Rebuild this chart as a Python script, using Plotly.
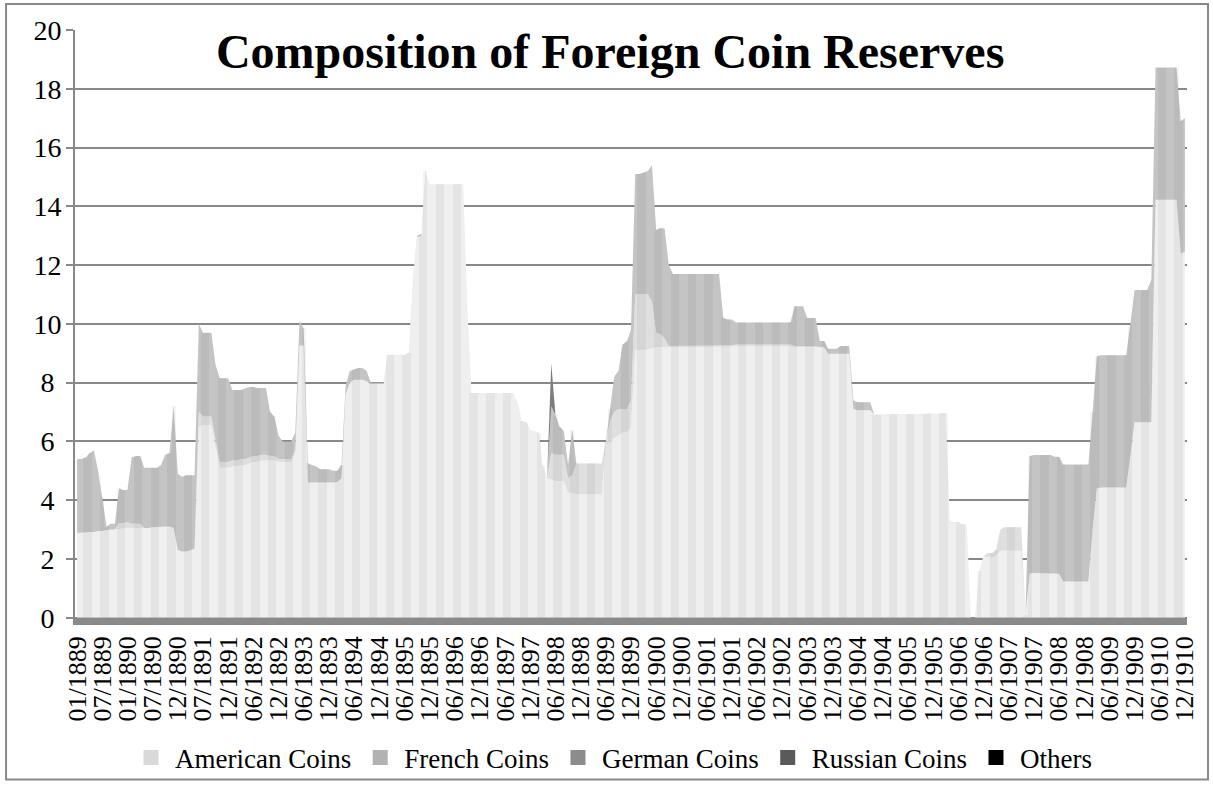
import plotly.graph_objects as go

# -----------------------------------------------------------------------------
# Data (monthly observations, values read off the chart)
# -----------------------------------------------------------------------------

tick_labels = [
    "01/1889", "07/1889", "01/1890", "07/1890", "12/1890", "07/1891", "12/1891",
    "06/1892", "12/1892", "06/1893", "12/1893", "06/1894", "12/1894", "06/1895",
    "12/1895", "06/1896", "12/1896", "06/1897", "12/1897", "06/1898", "12/1898",
    "06/1899", "12/1899", "06/1900", "12/1900", "06/1901", "12/1901", "06/1902",
    "12/1902", "06/1903", "12/1903", "06/1904", "12/1904", "06/1905", "12/1905",
    "06/1906", "12/1906", "06/1907", "12/1907", "06/1908", "12/1908", "06/1909",
    "12/1909", "06/1910", "12/1910",
]

y_ticks = [0, 2, 4, 6, 8, 10, 12, 14, 16, 18, 20]

american = [
    2.88, 2.90, 2.90, 2.92, 2.92, 2.95, 2.95, 2.98, 3.00, 3.00,
    3.02, 3.02, 3.05, 3.05, 3.05, 3.05, 3.05, 3.05, 3.08, 3.08,
    3.08, 3.10, 3.10, 3.05, 2.30, 2.25, 2.25, 2.30, 2.35, 6.50,
    6.55, 6.55, 6.55, 5.80, 5.10, 5.10, 5.10, 5.15, 5.15, 5.20,
    5.20, 5.25, 5.30, 5.30, 5.35, 5.35, 5.35, 5.35, 5.30, 5.30,
    5.30, 5.30, 5.60, 9.26, 9.26, 4.60, 4.60, 4.60, 4.58, 4.58,
    4.58, 4.60, 4.62, 4.75, 7.60, 8.00, 8.10, 8.10, 8.10, 8.05,
    7.95, 7.95, 7.95, 7.95, 8.95, 8.95, 8.95, 8.95, 8.95, 8.98,
    11.50, 12.95, 13.00, 15.20, 14.75, 14.75, 14.75, 14.75, 14.75, 14.75,
    14.75, 14.75, 14.78, 10.60, 7.65, 7.65, 7.65, 7.65, 7.65, 7.65,
    7.65, 7.65, 7.65, 7.65, 7.65, 7.30, 6.70, 6.65, 6.40, 6.35,
    6.30, 5.20, 4.75, 4.70, 4.65, 4.65, 4.65, 4.25, 4.25, 4.20,
    4.20, 4.20, 4.20, 4.20, 4.20, 4.20, 5.90, 6.00, 6.10, 6.20,
    6.30, 6.30, 6.50, 9.10, 9.12, 9.12, 9.12, 9.15, 9.20, 9.20,
    9.20, 9.20, 9.20, 9.20, 9.20, 9.20, 9.20, 9.20, 9.20, 9.20,
    9.20, 9.20, 9.20, 9.20, 9.20, 9.22, 9.22, 9.25, 9.25, 9.25,
    9.25, 9.25, 9.25, 9.25, 9.25, 9.25, 9.25, 9.25, 9.25, 9.25,
    9.25, 9.20, 9.20, 9.20, 9.20, 9.20, 9.20, 9.20, 9.20, 8.98,
    8.98, 8.98, 8.98, 8.98, 8.98, 7.10, 7.06, 7.06, 7.06, 7.06,
    6.91, 6.92, 6.92, 6.93, 6.93, 6.93, 6.93, 6.93, 6.93, 6.93,
    6.94, 6.94, 6.94, 6.95, 6.95, 6.95, 6.96, 6.96, 3.30, 3.26,
    3.26, 3.18, 3.18, 0.00, 0.00, 1.60, 2.10, 2.05, 2.05, 2.10,
    2.28, 2.28, 2.28, 2.28, 2.28, 2.28, 0.10, 1.50, 1.52, 1.52,
    1.52, 1.52, 1.52, 1.50, 1.50, 1.23, 1.23, 1.23, 1.23, 1.23,
    1.23, 1.23, 3.00, 4.40, 4.43, 4.43, 4.43, 4.43, 4.43, 4.43,
    4.43, 5.50, 6.65, 6.65, 6.65, 6.65, 6.65, 14.22, 14.22, 14.22,
    14.22, 14.22, 14.22, 12.40, 12.44,
]

french = [
    0, 0, 0, 0, 0, 0, 0, 0, 0, 0,
    0.20, 0.20, 0.20, 0.15, 0.15, 0.15, 0, 0, 0, 0,
    0, 0, 0, 0, 0, 0, 0, 0, 0, 0.50,
    0.30, 0.30, 0.30, 0.25, 0.20, 0.20, 0.20, 0.20, 0.20, 0.20,
    0.20, 0.20, 0.20, 0.20, 0.20, 0.20, 0.15, 0.15, 0.10, 0.10,
    0.10, 0.10, 0.10, 0, 0, 0, 0, 0, 0, 0,
    0, 0, 0, 0, 0, 0, 0, 0, 0, 0,
    0, 0, 0, 0, 0, 0, 0, 0, 0, 0,
    0, 0, 0, 0, 0, 0, 0, 0, 0, 0,
    0, 0, 0, 0, 0, 0, 0, 0, 0, 0,
    0, 0, 0, 0, 0, 0, 0, 0, 0, 0,
    0, 0, 0, 0.90, 0.90, 0.90, 0.90, 0.50, 0.60, 1.05,
    1.05, 1.05, 1.05, 1.05, 1.05, 1.05, 0.10, 0.70, 0.90, 0.90,
    0.80, 0.80, 0.90, 1.90, 1.90, 1.90, 1.90, 1.60, 0.50, 0.45,
    0.30, 0.05, 0.05, 0.05, 0.05, 0.05, 0.05, 0.05, 0.05, 0.05,
    0.05, 0.05, 0.05, 0.05, 0.05, 0.05, 0.05, 0.05, 0.05, 0.05,
    0.05, 0.05, 0.05, 0.05, 0.05, 0.05, 0.05, 0.05, 0.05, 0.05,
    0.05, 0.05, 0.05, 0.05, 0.05, 0.05, 0.05, 0, 0, 0,
    0, 0, 0, 0, 0, 0, 0, 0, 0, 0,
    0, 0, 0, 0, 0, 0, 0, 0, 0, 0,
    0, 0, 0, 0, 0, 0, 0, 0, 0, 0,
    0, 0, 0, 0, 0, 0, 0, 0.15, 0.15, 0.20,
    0.72, 0.80, 0.80, 0.80, 0.80, 0.80, 0, 0, 0, 0,
    0, 0, 0, 0, 0, 0, 0, 0, 0, 0,
    0, 0, 0, 0, 0, 0, 0, 0, 0, 0,
    0, 0, 0, 0, 0, 0, 0, 0, 0, 0,
    0, 0, 0, 0, 0,
]

german = [
    2.52, 2.50, 2.55, 2.68, 2.78, 2.05, 1.15, 0.12, 0.20, 0.20,
    1.18, 1.13, 1.10, 2.25, 2.30, 2.30, 2.05, 2.05, 2.02, 2.02,
    2.12, 2.45, 2.50, 4.15, 2.60, 2.55, 2.60, 2.55, 2.50, 3.00,
    2.85, 2.85, 2.85, 2.55, 2.85, 2.85, 2.85, 2.40, 2.40, 2.35,
    2.40, 2.40, 2.35, 2.32, 2.27, 2.27, 1.50, 1.35, 0.80, 0.60,
    0.60, 0.60, 0.60, 0.84, 0.59, 0.65, 0.60, 0.55, 0.47, 0.47,
    0.47, 0.40, 0.38, 0.45, 0.30, 0.40, 0.35, 0.40, 0.40, 0.35,
    0.05, 0.05, 0.05, 0.05, 0, 0, 0, 0, 0, 0.02,
    0, 0.05, 0.05, 0, 0, 0, 0, 0, 0, 0,
    0, 0, 0, 0, 0, 0, 0, 0, 0, 0,
    0, 0, 0, 0, 0, 0, 0, 0, 0, 0,
    0, 0, 0, 1.60, 1.35, 0.95, 0.80, 0.45, 1.55, 0,
    0, 0, 0, 0, 0, 0, 0, 0.40, 1.20, 1.30,
    2.20, 2.30, 2.40, 4.10, 4.08, 4.13, 4.18, 4.65, 3.50, 3.60,
    3.75, 2.75, 2.45, 2.45, 2.45, 2.45, 2.45, 2.45, 2.45, 2.45,
    2.45, 2.45, 2.45, 2.45, 0.95, 0.88, 0.88, 0.75, 0.75, 0.75,
    0.75, 0.75, 0.75, 0.75, 0.75, 0.75, 0.75, 0.75, 0.75, 0.75,
    0.75, 1.35, 1.35, 1.35, 0.95, 0.95, 0.95, 0.22, 0.22, 0.17,
    0.17, 0.17, 0.27, 0.27, 0.27, 0.30, 0.27, 0.27, 0.27, 0.27,
    0, 0, 0, 0, 0, 0, 0, 0, 0, 0,
    0, 0, 0, 0, 0, 0, 0, 0, 0, 0,
    0, 0, 0, 0, 0, 0, 0, 0, 0, 0,
    0, 0, 0, 0, 0, 0, 0, 4.00, 4.02, 4.02,
    4.02, 4.02, 4.02, 3.98, 3.98, 3.98, 3.98, 3.98, 3.98, 3.98,
    3.98, 3.98, 4.00, 4.50, 4.50, 4.50, 4.50, 4.50, 4.50, 4.50,
    4.50, 4.50, 4.50, 4.50, 4.50, 4.50, 4.85, 4.50, 4.50, 4.50,
    4.50, 4.50, 4.50, 4.50, 4.56,
]

russian = [0] * 113 + [1.45] + [0] * 151
others = [0] * 265

series_names = ["American Coins", "French Coins", "German Coins", "Russian Coins", "Others"]
fill_colors = ["#efefef", "#dfdfdf", "#c4c4c4", "#7c7c7c", "#000000"]
legend_colors = ["#d9d9d9", "#b2b2b2", "#8c8c8c", "#5a5a5a", "#000000"]

months = list(range(len(american)))
series = [american, french, german, russian, others]
totals = [sum(v) for v in zip(*series)]

# -----------------------------------------------------------------------------
# Figure
# -----------------------------------------------------------------------------

fig = go.Figure()

for name, vals, fc in zip(series_names, series, fill_colors):
    fig.add_trace(go.Scatter(
        x=months, y=vals, name=name, mode="lines",
        stackgroup="coins", fillcolor=fc,
        line=dict(width=0, color=fc),
        showlegend=False, hoverinfo="skip",
    ))

# faint vertical banding of the original 3D rendering, drawn on an overlay
# axis pair so it sits above the filled areas
band = ["rgba(0,0,0,0.045)" if (i // 2) % 2 else "rgba(0,0,0,0)" for i in months]
fig.add_trace(go.Bar(x=months, y=totals, xaxis="x2", yaxis="y2",
                     marker=dict(color=band, line_width=0),
                     showlegend=False, hoverinfo="skip"))

# legend squares
for name, lc in zip(series_names, legend_colors):
    fig.add_trace(go.Scatter(
        x=[None], y=[None], name=name, mode="markers",
        marker=dict(symbol="square", size=15, color=lc),
    ))

serif = "Liberation Serif, Times New Roman, serif"
x_range = [-0.5, len(months) - 0.5]
y_range = [-0.25, 20]

fig.update_xaxes(
    range=x_range,
    tickmode="array", tickvals=months[::6], ticktext=tick_labels,
    tickangle=-90, tickfont=dict(family=serif, size=26, color="black"),
    ticklabelstandoff=5,
    showgrid=False, showline=False, zeroline=False, ticks="",
)
# single digits padded so they sit left like the original labels
fig.update_yaxes(
    range=y_range, tickmode="array", tickvals=y_ticks,
    ticktext=[str(v) if v >= 10 else str(v) + "\u00a0" for v in y_ticks],
    tickfont=dict(family=serif, size=28, color="black"),
    ticklabelstandoff=-1,
    showgrid=True, gridcolor="#888888", gridwidth=1.5,
    showline=True, linecolor="#888888", linewidth=2,
    ticks="outside", ticklen=7, tickwidth=2, tickcolor="#888888",
    zeroline=False,
)

# 3D floor band under the series
fig.add_shape(type="rect", xref="paper", yref="y",
              x0=0, x1=1, y0=-0.25, y1=0,
              fillcolor="#8a8a8a", line_width=0, layer="above")
# chart border
fig.add_shape(type="rect", xref="paper", yref="paper",
              x0=-0.0620, x1=1.0189, y0=-0.2596, y1=1.0435,
              line=dict(color="#888888", width=2), fillcolor="rgba(0,0,0,0)")

fig.update_layout(
    width=1213, height=787,
    margin=dict(l=75, r=26, t=30, b=160),
    paper_bgcolor="white", plot_bgcolor="white",
    bargap=0,
    xaxis2=dict(overlaying="x", range=x_range, visible=False),
    yaxis2=dict(overlaying="y", range=y_range, visible=False),
    title=dict(text="<b>Composition of Foreign Coin Reserves</b>",
               font=dict(family=serif, size=48, color="black"),
               x=0.503, xref="container", xanchor="center",
               y=1 - 51 / 787, yref="container", yanchor="middle"),
    legend=dict(orientation="h", traceorder="normal",
                x=127 / 1213, xref="container", xanchor="left",
                y=1 - 758 / 787, yref="container", yanchor="middle",
                bgcolor="rgba(0,0,0,0)",
                font=dict(family=serif, size=27, color="black"),
                itemwidth=38),
    font=dict(family=serif),
)

fig.write_html("out.html", config={"displayModeBar": False},
               post_script="document.body.style.margin='0';")
